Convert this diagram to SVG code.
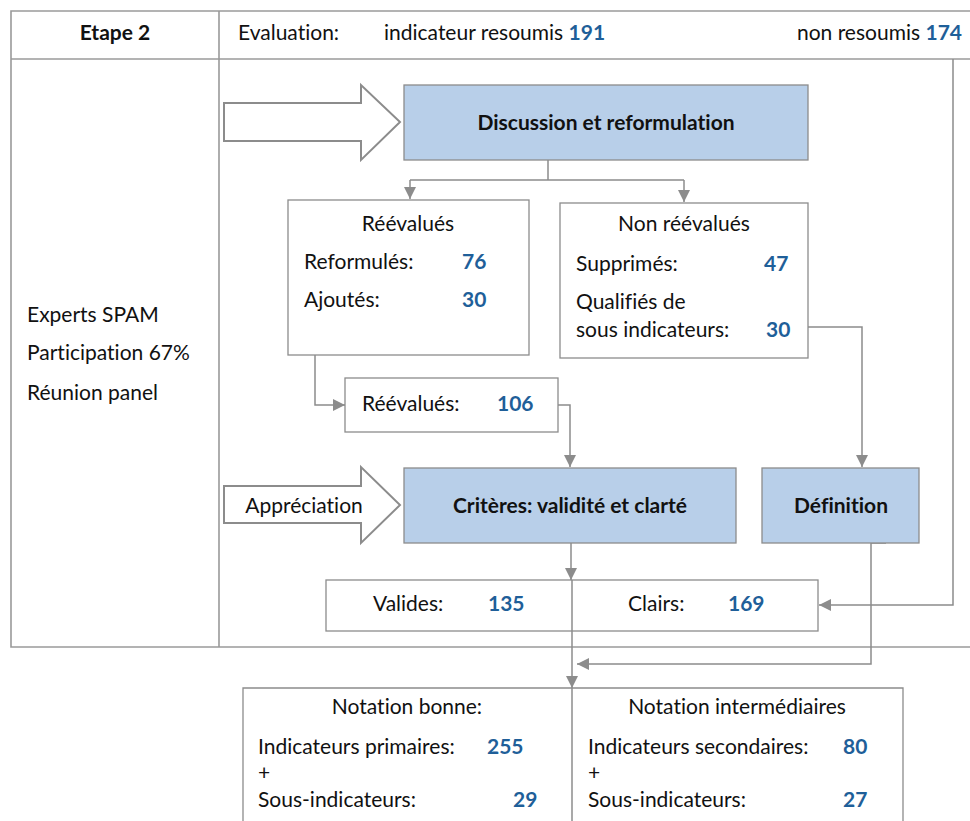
<svg xmlns="http://www.w3.org/2000/svg" width="970" height="821" viewBox="0 0 970 821">
  <style>
    text { font-family: Lato, "Open Sans", "Liberation Sans", sans-serif; font-size: 21px; fill: #111; font-variant-ligatures: none; }
    .b { font-weight: bold; }
    .n { font-weight: bold; fill: #1f5f99; }
    .c { text-anchor: middle; }
    .frame { fill: none; stroke: #9a9a9a; stroke-width: 1.6; }
    .box { fill: #fff; stroke: #8c8c8c; stroke-width: 1.3; }
    .blue { fill: #b8cfe9; stroke: #8c8c8c; stroke-width: 1.3; }
    .big { fill: #fff; stroke: #8c8c8c; stroke-width: 2; }
    .wire { fill: none; stroke: #8c8c8c; stroke-width: 1.5; }
  </style>
  <defs>
    <marker id="tip" viewBox="0 0 12 12" refX="12" refY="6" markerWidth="12" markerHeight="12" markerUnits="userSpaceOnUse" orient="auto">
      <path d="M0,0 L12,6 L0,12 z" fill="#8c8c8c"/>
    </marker>
  </defs>
  <rect width="970" height="821" fill="#fff"/>

  <!-- table frame -->
  <g id="table">
    <path class="frame" d="M970,11 H11 V647 H970 M11,59 H970 M219,11 V647"/>
    <text class="b c" x="115" y="40">Etape 2</text>
    <text x="238" y="40">Evaluation:</text>
    <text x="384" y="40">indicateur resoumis <tspan class="n">191</tspan></text>
    <text x="962" y="40" text-anchor="end">non resoumis <tspan class="n">174</tspan></text>
  </g>

  <g id="experts">
    <text x="27" y="322">Experts SPAM</text>
    <text x="27" y="360">Participation 67%</text>
    <text x="27" y="400">Réunion panel</text>
  </g>

  <!-- connectors -->
  <g id="connectors">
    <path class="wire" d="M548,160 V180 M410,180 H684"/>
    <path class="wire" d="M410,180 V199" marker-end="url(#tip)"/>
    <path class="wire" d="M684,180 V202" marker-end="url(#tip)"/>
    <path class="wire" d="M315,355 V405 H345" marker-end="url(#tip)"/>
    <path class="wire" d="M558,405 H570 V467" marker-end="url(#tip)"/>
    <path class="wire" d="M808,327 H862 V467" marker-end="url(#tip)"/>
    <path class="wire" d="M571,543 V580" marker-end="url(#tip)"/>
    <path class="wire" d="M572,631 V688" marker-end="url(#tip)"/>
    <path class="wire" d="M953,59 V605 H819" marker-end="url(#tip)"/>
    <path class="wire" d="M871,543 H886 M871,543 V664 H577" marker-end="url(#tip)"/>
  </g>

  <g id="arrow-discussion">
    <path class="big" d="M224,103 H361 V85 L400,122 L361,160 V141 H224 Z"/>
  </g>
  <g id="discussion">
    <rect class="blue" x="404" y="85" width="404" height="75"/>
    <text class="b c" x="606" y="130">Discussion et reformulation</text>
  </g>

  <g id="reevalues">
    <rect class="box" x="288" y="200" width="241" height="155"/>
    <text class="c" x="408" y="231">Réévalués</text>
    <text x="304" y="269">Reformulés:</text>
    <text class="n" x="462" y="269">76</text>
    <text x="304" y="307">Ajoutés:</text>
    <text class="n" x="462" y="307">30</text>
  </g>

  <g id="non-reevalues">
    <rect class="box" x="560" y="203" width="248" height="155"/>
    <text class="c" x="684" y="231">Non réévalués</text>
    <text x="576" y="271">Supprimés:</text>
    <text class="n" x="764" y="271">47</text>
    <text x="576" y="309">Qualifiés de</text>
    <text x="576" y="337">sous indicateurs:</text>
    <text class="n" x="766" y="337">30</text>
  </g>

  <g id="reevalues-total">
    <rect class="box" x="345" y="378" width="213" height="54"/>
    <text x="362" y="411">Réévalués:</text>
    <text class="n" x="497" y="411">106</text>
  </g>

  <g id="arrow-appreciation">
    <path class="big" d="M224,486 H361 V467 L400,505 L361,543 V523 H224 Z"/>
    <text class="c" x="304" y="513">Appréciation</text>
  </g>

  <g id="criteres">
    <rect class="blue" x="404" y="468" width="332" height="75"/>
    <text class="b c" x="570" y="513">Critères: validité et clarté</text>
  </g>

  <g id="definition">
    <rect class="blue" x="762" y="468" width="157" height="75"/>
    <text class="b c" x="841" y="513">Définition</text>
  </g>

  <g id="validite">
    <rect class="box" x="326" y="580" width="492" height="51"/>
    <path class="wire" d="M572,580 V631"/>
    <text x="373" y="611">Valides:</text>
    <text class="n" x="488" y="611">135</text>
    <text x="628" y="611">Clairs:</text>
    <text class="n" x="728" y="611">169</text>
  </g>

  <g id="notation">
    <path class="box" d="M243,821 V688 H903 V821"/>
    <path class="wire" d="M572,688 V821"/>
    <text class="c" x="407" y="714">Notation bonne:</text>
    <text x="258" y="754">Indicateurs primaires:</text>
    <text class="n" x="487" y="754">255</text>
    <text x="258" y="780">+</text>
    <text x="258" y="807">Sous-indicateurs:</text>
    <text class="n" x="513" y="807">29</text>
    <text class="c" x="737" y="714">Notation intermédiaires</text>
    <text x="588" y="754">Indicateurs secondaires:</text>
    <text class="n" x="843" y="754">80</text>
    <text x="588" y="780">+</text>
    <text x="588" y="807">Sous-indicateurs:</text>
    <text class="n" x="843" y="807">27</text>
  </g>
</svg>
